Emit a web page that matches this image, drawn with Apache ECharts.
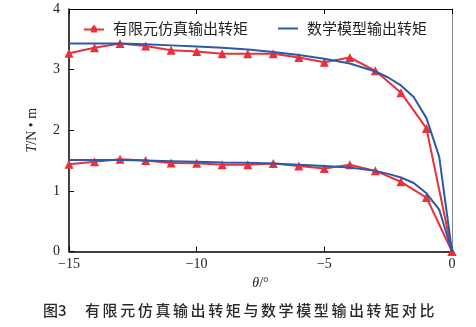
<!DOCTYPE html>
<html><head><meta charset="utf-8">
<script src="https://cdn.jsdelivr.net/npm/echarts@6/dist/echarts.min.js"></script>
<style>html,body{margin:0;padding:0;background:#fff}#c{width:476px;height:327px}</style>
</head><body><div id="c"></div>
<script>
var feX = [-15,-14,-13,-12,-11,-10,-9,-8,-7,-6,-5,-4,-3,-2,-1,0];
var feHigh = [3.27,3.36,3.43,3.39,3.32,3.30,3.26,3.26,3.26,3.20,3.12,3.20,2.98,2.62,2.03,0];
var feLow = [1.44,1.48,1.52,1.50,1.46,1.455,1.43,1.43,1.45,1.41,1.37,1.43,1.33,1.15,0.89,0];
var mdX = [-15,-14,-13,-12,-11,-10,-9,-8,-7,-6,-5,-4,-3,-2.5,-2,-1.5,-1,-0.5,0];
var mdHigh = [3.43,3.43,3.43,3.42,3.40,3.38,3.36,3.33,3.29,3.24,3.18,3.10,2.97,2.87,2.74,2.55,2.20,1.56,0];
var mdLow = [1.51,1.51,1.51,1.50,1.49,1.48,1.47,1.465,1.45,1.43,1.41,1.385,1.33,1.28,1.22,1.13,0.96,0.69,0];
var xTicks = [-15,-10,-5,0];
var legendNames = ['有限元仿真输出转矩','数学模型输出转矩'];
var captionLabel = '图3';
var captionText = '有限元仿真输出转矩与数学模型输出转矩对比';

function pairs(xs, ys){ return xs.map(function(x,i){return [x, ys[i]];}); }
var RED = '#e8313b', BLUE = '#2b5ba8';
var serif = '"Times New Roman", "Liberation Serif", serif';
var capFont = '500 15px "Noto Sans CJK SC"';
var feStyle = {type:'line', color:RED, symbol:'triangle', symbolSize:9, showSymbol:true,
  lineStyle:{width:2, color:RED}, itemStyle:{color:RED}, z:2};
var mdStyle = {type:'line', color:BLUE, symbol:'none', showSymbol:false,
  lineStyle:{width:2, color:BLUE}, itemStyle:{color:BLUE}, z:3};
var spaced = captionText.split('').map(function(ch){return '{c|'+ch+'}';}).join('');

var chart = echarts.init(document.getElementById('c'), null, {renderer:'canvas'});
chart.setOption({
  animation:false,
  grid:{left:69, right:24, top:9, bottom:75.5},
  legend:{
    data:[{name:legendNames[0], icon:'path://M0,4L7,4L10,0L13,4L20,4L20,6L13,6L13,8L7,8L7,6L0,6Z'},
          {name:legendNames[1], icon:'path://M0,4L20,4L20,6L0,6Z'}],
    left:79, top:16, itemWidth:20, itemHeight:9, itemGap:30,
    textStyle:{fontFamily:'Noto Sans CJK SC', fontSize:15, color:'#222', padding:[0,0,0,4]}
  },
  xAxis:[{
    type:'value', min:-15, max:0, interval:5, position:'bottom',
    name:'{i|θ}/°', nameLocation:'middle', nameGap:14,
    nameTextStyle:{fontFamily:serif, fontSize:14, color:'#222', rich:{i:{fontStyle:'italic', fontFamily:serif, fontSize:14, color:'#222'}}},
    axisLine:{onZero:false, lineStyle:{color:'#000', width:1.5}},
    axisTick:{inside:true, length:5, lineStyle:{color:'#000'}},
    axisLabel:{fontFamily:serif, fontSize:14, color:'#222', margin:6, formatter:function(v){return xTicks.indexOf(v)>=0 ? String(v).replace('-','−') : '';}},
    splitLine:{show:false}
  },{
    type:'value', min:-15, max:0, interval:5, position:'top',
    axisLine:{onZero:false, lineStyle:{color:'#000', width:1}},
    axisTick:{inside:true, length:5, lineStyle:{color:'#000'}},
    axisLabel:{show:false}, splitLine:{show:false}
  }],
  yAxis:[{
    type:'value', min:0, max:4, interval:1, position:'left',
    name:'{i|T}/N • m', nameLocation:'middle', nameGap:30, nameRotate:90,
    nameTextStyle:{fontFamily:serif, fontSize:14, color:'#222', rich:{i:{fontStyle:'italic', fontFamily:serif, fontSize:14, color:'#222'}}},
    axisLine:{show:true, onZero:false, lineStyle:{color:'#000', width:1.5}},
    axisTick:{show:true, inside:true, length:5, lineStyle:{color:'#000'}},
    axisLabel:{fontFamily:serif, fontSize:14, color:'#222', margin:9},
    splitLine:{show:false}
  },{
    type:'value', min:0, max:4, interval:1, position:'right',
    axisLine:{show:true, onZero:false, lineStyle:{color:'#888', width:1}},
    axisTick:{show:false}, axisLabel:{show:false}, splitLine:{show:false}
  }],
  series:[
    Object.assign({name:legendNames[0], data:pairs(feX, feHigh)}, feStyle),
    Object.assign({name:legendNames[0], data:pairs(feX, feLow)}, feStyle),
    Object.assign({name:legendNames[1], data:pairs(mdX, mdHigh)}, mdStyle),
    Object.assign({name:legendNames[1], data:pairs(mdX, mdLow)}, mdStyle)
  ],
  graphic:[{
    type:'text', left:43, top:303,
    style:{text:captionLabel, font:capFont, fill:'#2a2a2a'}
  },{
    type:'text', left:85, top:303,
    style:{text:spaced, font:capFont, fill:'#2a2a2a',
      rich:{c:{width:17.6, font:capFont, fill:'#2a2a2a'}}}
  }]
});
</script></body></html>
